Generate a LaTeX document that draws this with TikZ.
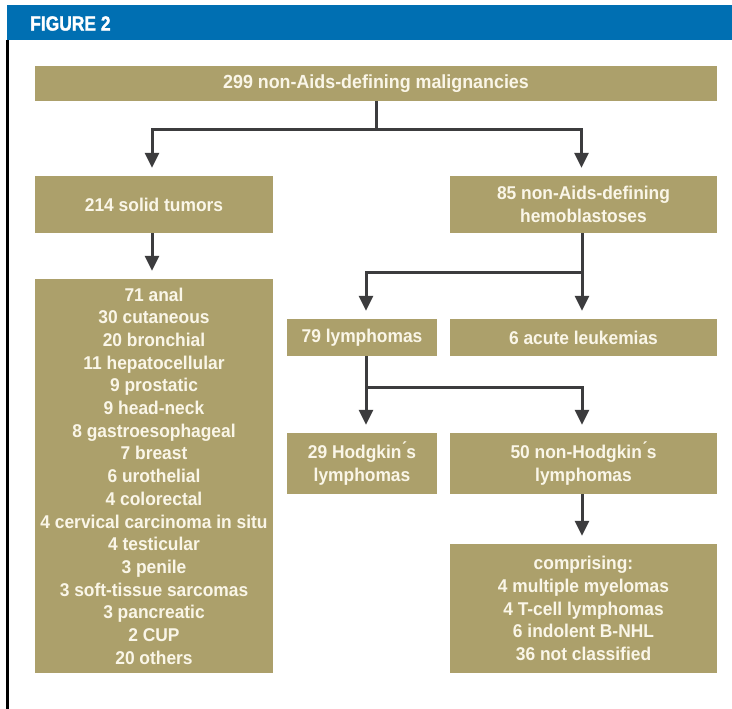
\documentclass[tikz,border=0pt]{standalone}
\usepackage{fontspec}
\setmainfont{Liberation Sans}[FakeStretch=0.94]
\newfontfamily\headfont{Liberation Sans}[FakeStretch=0.85,FakeBold=1.4]
\usetikzlibrary{arrows.meta}
\definecolor{boxfill}{RGB}{172,160,107}
\definecolor{boxtext}{RGB}{250,246,232}
\definecolor{arrowgrey}{RGB}{60,60,62}
\definecolor{barblue}{RGB}{0,111,178}
\tikzset{
  box/.style={fill=boxfill, text=boxtext, inner sep=0pt, align=center,
    font=\bfseries\fontsize{18.5}{22.7}\selectfont},
  conn/.style={draw=arrowgrey, line width=3pt},
  arr/.style={conn, -{Triangle[length=15pt,width=14pt]}}
}
\begin{document}
\begin{tikzpicture}[x=1pt,y=-1pt]
\useasboundingbox (0,0) rectangle (732,709);
\fill[white] (0,0) rectangle (732,709);
% header
\fill[barblue] (7,5) rectangle (732,40);
\node[anchor=west, text=white, inner sep=0pt, font=\headfont\bfseries\fontsize{20.5}{22}\selectfont] (title) at (30,23.5) {FIGURE 2};
\draw[black, line width=2.5pt] (7.5,40) -- (7.5,709);
% boxes
\node[box, minimum width=682pt, minimum height=35pt, font=\bfseries\fontsize{19}{22.7}\selectfont] (top) at (376,83.5) {299 non-Aids-defining malignancies};
\node[box, minimum width=238pt, minimum height=57pt] (solid) at (154,204.5) {214 solid tumors};
\node[box, minimum width=238pt, minimum height=394pt] (list) at (154,476) {71 anal\\30 cutaneous\\20 bronchial\\11 hepatocellular\\9 prostatic\\9 head-neck\\8 gastroesophageal\\7 breast\\6 urothelial\\4 colorectal\\4 cervical carcinoma in situ\\4 testicular\\3 penile\\3 soft-tissue sarcomas\\3 pancreatic\\2 CUP\\20 others};
\node[box, minimum width=267pt, minimum height=57pt] (hemo) at (583.5,204.5) {85 non-Aids-defining\\hemoblastoses};
\node[box, minimum width=150pt, minimum height=37pt] (lymph) at (362,337.5) {79 lymphomas};
\node[box, minimum width=267pt, minimum height=37pt] (leuk) at (583.5,337.5) {6 acute leukemias};
\node[box, minimum width=150pt, minimum height=61pt] (hodg) at (362,463.5) {29 Hodgkin\'{}s\\lymphomas};
\node[box, minimum width=267pt, minimum height=61pt] (nhl) at (583.5,463.5) {50 non-Hodgkin\'{}s\\lymphomas};
\node[box, minimum width=267pt, minimum height=129pt] (comp) at (583.5,608.5) {comprising:\\4 multiple myelomas\\4 T-cell lymphomas\\6 indolent B-NHL\\36 not classified};
% junctions
\coordinate (j1) at (376,130);
\coordinate (j2) at (582,272);
\coordinate (j3) at (366,387);
% connectors
\draw[conn] (top.south) -- (j1);
\draw[arr] (j1) -| ([xshift=-2pt,yshift=8pt]solid.north);
\draw[arr] (j1) -| ([xshift=-2pt,yshift=8pt]hemo.north);
\draw[arr] ([xshift=-2pt]solid.south) -- ([xshift=-2pt,yshift=8pt]list.north);
\draw[conn] ([xshift=-1.5pt]hemo.south) -- (j2);
\draw[arr] (j2) -| ([xshift=4pt,yshift=8pt]lymph.north);
\draw[arr] (j2) -- ([xshift=-1.5pt,yshift=8pt]leuk.north);
\draw[conn] ([xshift=4pt]lymph.south) -- (j3);
\draw[arr] (j3) -- ([xshift=4pt,yshift=8pt]hodg.north);
\draw[arr] (j3) -| ([xshift=-1.5pt,yshift=8pt]nhl.north);
\draw[arr] ([xshift=-1.5pt]nhl.south) -- ([xshift=-1.5pt,yshift=8pt]comp.north);
\end{tikzpicture}
\end{document}
